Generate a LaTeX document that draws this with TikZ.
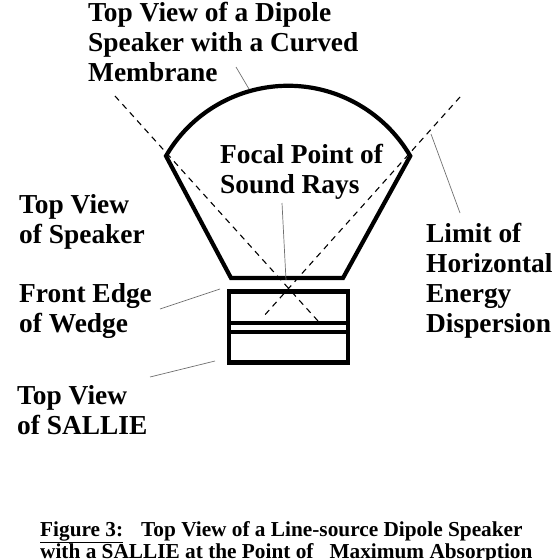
\documentclass[tikz,border=0pt]{standalone}
\usepackage{fontspec}
\setmainfont{Liberation Serif}
\usepackage{xcolor}
\definecolor{qleader}{HTML}{707070}
\usetikzlibrary{positioning}

\begin{document}
\begin{tikzpicture}[x=1pt,y=-1pt,font=\bfseries,
  lbl/.style={anchor=north west,align=left,inner sep=0pt,font=\fontsize{27.4}{30}\selectfont\bfseries},
  captxt/.style={anchor=north west,align=left,inner sep=0pt,font=\fontsize{21.3}{22.5}\selectfont\bfseries},
  body/.style={draw=black,line width=4.2pt},
  ray/.style={draw=black,line width=1.1pt,dash pattern=on 6pt off 5pt},
  lead/.style={draw=qleader,line width=0.7pt}]
\useasboundingbox (0,0) rectangle (560,560);
\node[lbl] (dipole) at (88,2) {Top View of a Dipole\\Speaker with a Curved\\Membrane};
\node[lbl] (speaker) at (19,194) {Top View\\of Speaker};
\node[lbl] (wedge) at (19,283) {Front Edge\\of Wedge};
\node[lbl] (sallie) at (17,385) {Top View\\of SALLIE};
\node[lbl] (focal) at (220,144) {Focal Point of\\Sound Rays};
\node[lbl] (limit) at (426,223) {Limit of\\Horizontal\\Energy\\Dispersion};
\node[captxt] (caption) at (40,521) {\underline{Figure 3:}\ \ \ \hspace{2pt}Top View of a Line-source Dipole Speaker\\with a SALLIE at the Point of\ \ \ Maximum Absorption};
% speaker outline
\coordinate (sl) at (166,156);
\coordinate (sr) at (410,156);
\coordinate (bl) at (231,278);
\coordinate (br) at (343,278);
\draw[body] (sl) arc[start angle=149.8,end angle=30.2,radius=141.3pt] -- (br) -- (bl) -- cycle;
% sallie
\node[body,minimum width=119pt,minimum height=71pt,inner sep=0pt] (sallie box) at (288.5,327) {};
\draw[body,line width=3.6pt] (229,323) coordinate (w1) -- (348,323) coordinate (w2);
\draw[body,line width=3.6pt] (229,332) coordinate (w3) -- (348,332) coordinate (w4);
% rays
\coordinate (r1a) at (115,96);
\coordinate (r1b) at (318,321);
\coordinate (r2a) at (460,97);
\coordinate (r2b) at (263,317);
\draw[ray] (r1a)--(r1b);
\draw[ray] (r2a)--(r2b);
% leaders
\coordinate (m1) at (236,67);\coordinate (m2) at (249,89);
\coordinate (l1) at (431,134);\coordinate (l2) at (460,213);
\coordinate (f1) at (282,203);\coordinate (f2) at (286,280);
\coordinate (e1) at (160,309);\coordinate (e2) at (220,289);
\coordinate (t1) at (150,377);\coordinate (t2) at (215,361);
\draw[lead] (m1)--(m2);\draw[lead](l1)--(l2);\draw[lead](f1)--(f2);\draw[lead](e1)--(e2);\draw[lead](t1)--(t2);
\end{tikzpicture}
\end{document}
